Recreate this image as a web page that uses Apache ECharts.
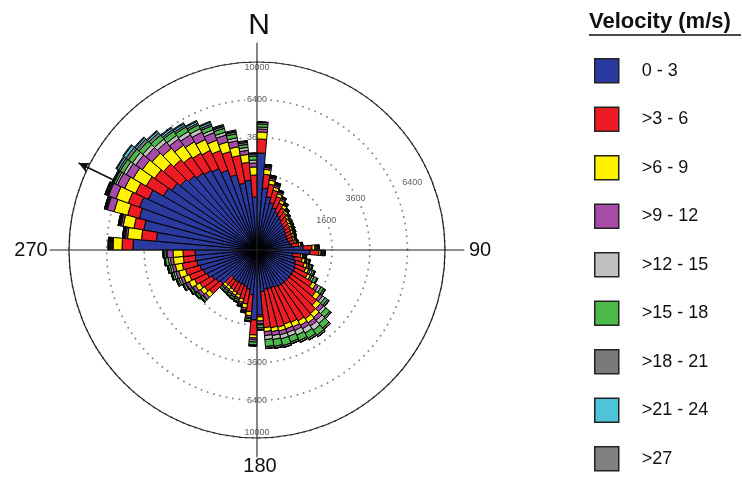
<!DOCTYPE html>
<html><head><meta charset="utf-8">
<script src="https://cdn.jsdelivr.net/npm/echarts@6/dist/echarts.min.js"></script>
<style>html,body{margin:0;padding:0;background:#fff}#c{width:742px;height:477px}</style>
</head><body><div id="c"></div>
<script>
// Direction bins (degrees, start of each 5° sector, clockwise from North)
const directions = ['0','5','10','15','20','25','30','35','40','45','50','55','60','65','70','75','80','85',
 '90','95','100','105','110','115','120','125','130','135','140','145','150','155','160','165','170','175',
 '180','185','190','195','200','205','210','215','220','225','230','235','240','245','250','255','260','265',
 '270','275','280','285','290','295','300','305','310','315','320','325','330','335','340','345','350','355'];

const speedClasses = ['0 - 3','>3 - 6','>6 - 9','>9 - 12','>12 - 15','>15 - 18','>18 - 21','>21 - 24','>27'];
const classColors = ['#2b3a9e','#ed1c24','#fff200','#a64ca6','#c0c0c0','#4cb848','#7a7a7a','#4dc4d9','#808080'];

// Frequency (counts) per direction for each velocity class
const v0_3 = [2662,1088,825,679,573,499,453,409,367,347,327,308,290,290,290,308,347,599,795,367,409,453,476,499,499,499,499,499,499,499,476,453,453,453,499,1195,1386,573,453,409,387,387,387,387,367,652,707,765,856,919,985,1053,1088,1088,4350,2886,3741,4211,4420,4074,3300,3060,2829,2662,2500,2395,2292,2044,1721,1308,1386,795];
const v3_6 = [824,547,445,408,346,266,227,190,157,129,126,122,119,119,98,100,152,257,293,181,190,227,289,388,660,968,1222,1450,1497,1403,1335,1313,1358,1313,1222,75,658,515,403,327,265,238,211,186,206,436,452,467,491,548,564,581,462,462,806,921,679,869,890,1006,1335,1360,1382,1277,1177,1154,1132,1135,1222,1299,805,797];
const v6_9 = [454,222,156,108,99,91,86,53,50,48,46,45,44,44,43,44,49,96,71,51,81,86,91,98,149,211,228,242,245,239,233,231,186,183,181,156,147,145,129,89,84,82,81,79,79,183,188,194,244,255,307,315,447,447,710,974,812,1117,1056,951,1150,1125,1099,1065,958,872,788,694,605,512,416,358];
const v9_12 = [203,93,82,75,69,63,30,27,26,25,24,23,23,23,22,23,25,33,37,26,28,60,63,68,118,133,192,204,206,201,197,195,195,192,190,123,101,76,68,62,59,58,57,56,56,116,120,123,130,135,140,143,145,295,82,148,155,600,697,679,665,652,638,620,598,584,570,548,457,367,222,192];
const v12_15 = [138,47,42,38,0,0,0,0,0,0,0,0,0,0,0,0,0,34,37,27,29,31,66,70,123,138,150,213,269,265,259,204,204,201,199,42,103,39,35,32,0,0,0,0,0,40,41,42,44,93,96,99,100,51,82,75,78,88,90,175,259,340,333,324,312,306,299,215,205,191,172,150];
const v15_18 = [211,48,42,39,35,33,30,28,26,25,25,24,23,0,0,0,0,34,38,27,59,63,68,110,128,143,262,336,344,336,329,322,378,373,370,130,159,79,35,33,61,60,59,58,58,82,84,86,91,95,99,101,154,104,83,76,79,89,90,178,353,437,429,417,403,395,308,294,281,263,177,208];
const v18_21 = [144,48,43,39,36,33,31,29,27,26,25,25,24,23,23,23,26,35,38,28,30,33,35,38,88,99,109,117,119,117,114,113,113,113,111,89,54,41,36,33,31,31,30,30,30,42,43,44,46,48,50,51,52,53,83,76,80,89,91,90,180,269,264,257,165,162,157,151,144,135,121,108];
const v21_24 = [0,0,0,0,0,0,0,0,0,0,0,0,0,0,0,0,0,0,0,0,0,0,0,0,0,0,0,0,0,0,0,0,0,0,0,0,0,0,0,0,0,0,0,0,0,0,0,0,0,0,0,0,0,0,84,0,0,0,91,90,182,274,179,174,168,164,160,153,73,68,61,55];
const v27 = [0,0,0,0,0,0,0,0,0,0,0,0,0,0,0,0,0,0,0,0,0,0,0,0,0,0,0,0,0,0,0,0,0,0,0,0,0,0,0,0,0,0,0,0,0,0,0,0,0,0,0,0,0,0,0,0,0,0,0,0,92,93,90,88,85,83,81,77,73,69,62,0];
const classData = [v0_3, v3_6, v6_9, v9_12, v12_15, v15_18, v18_21, v21_24, v27];

// Radial ring values (square-root scale) and compass labels
const ringValues = [1600, 3600, 6400, 10000];
const compassLabels = ['N', '90', '180', '270'];
const meanDirection = 296; // arrow bearing (deg)

const CX = 257, CY = 250, R = 188, EXT = 1.12;
const FONT = '"Liberation Sans", Arial, Helvetica, sans-serif';

// stacked segments measured on the sqrt(count) radial scale
function segments(k) {
  return directions.map((d, i) => {
    let below = 0;
    for (let j = 0; j < k; j++) below += classData[j][i];
    const top = below + classData[k][i];
    return Math.sqrt(top) - Math.sqrt(below);
  });
}

const barSeries = speedClasses.map((name, k) => ({
  name: name, type: 'bar', coordinateSystem: 'polar', polarIndex: 0,
  stack: 'rose', data: segments(k), barCategoryGap: '0%', z: 3,
  itemStyle: { color: classColors[k], borderColor: '#000', borderWidth: 1 },
  emphasis: { disabled: true }, silent: true
}));

const ringLabelData = [
  { value: [Math.sqrt(ringValues[3]) - 3, 0], label: { formatter: '10000' } },
  { value: [Math.sqrt(ringValues[2]), 0], label: { formatter: '6400' } },
  { value: [Math.sqrt(ringValues[1]), 0], label: { formatter: '3600' } },
  { value: [Math.sqrt(ringValues[3]) - 3, 180], label: { formatter: '10000' } },
  { value: [Math.sqrt(ringValues[2]), 180], label: { formatter: '6400' } },
  { value: [Math.sqrt(ringValues[1]), 180], label: { formatter: '3600' } },
  { value: [Math.sqrt(ringValues[0]), 67], label: { formatter: '1600' } },
  { value: [Math.sqrt(ringValues[1]) - 1, 62.5], label: { formatter: '3600' } },
  { value: [Math.sqrt(ringValues[2]) + 10, 66.5], label: { formatter: '6400' } }
];

const LL = 110.3; // cross-line length in radial units

const chart = echarts.init(document.getElementById('c'), null, { renderer: 'canvas' });
chart.setOption({
  animation: false,
  backgroundColor: '#fff',
  polar: [
    { center: [CX, CY], radius: R },
    { center: [CX, CY], radius: R * EXT }
  ],
  angleAxis: [
    { polarIndex: 0, type: 'category', data: directions, startAngle: 90, clockwise: true,
      boundaryGap: true,
      axisLine: { show: true, lineStyle: { color: '#222', width: 1.2 } },
      axisTick: { show: false }, axisLabel: { show: false }, splitLine: { show: false } },
    { polarIndex: 1, type: 'value', min: 0, max: 360, startAngle: 90, clockwise: true,
      axisLine: { show: false }, axisTick: { show: false }, axisLabel: { show: false }, splitLine: { show: false } }
  ],
  radiusAxis: [
    { polarIndex: 0, type: 'value', min: 0, max: 100, interval: 20,
      axisLine: { show: false }, axisTick: { show: false }, axisLabel: { show: false },
      splitLine: { show: true, lineStyle: { color: '#8a8a8a', width: 2, type: [0.01, 6.5], cap: 'round' } } },
    { polarIndex: 1, type: 'value', min: 0, max: 100 * EXT,
      axisLine: { show: false }, axisTick: { show: false }, axisLabel: { show: false }, splitLine: { show: false } }
  ],
  legend: {
    orient: 'vertical', left: 589, top: 53, itemWidth: 24, itemHeight: 24, itemGap: 23,
    icon: 'rect', selectedMode: false, data: speedClasses,
    itemStyle: { borderColor: '#222', borderWidth: 1.5 },
    textStyle: { fontSize: 18, color: '#111', fontFamily: FONT, padding: [0, 0, 0, 18] }
  },
  graphic: [
    { type: 'text', left: 589, top: 11, style: { text: 'Velocity (m/s)', font: 'bold 22px ' + FONT, fill: '#111' } },
    { type: 'line', shape: { x1: 589, y1: 35, x2: 741, y2: 35 }, style: { stroke: '#111', lineWidth: 1.6 } },
    { type: 'text', x: CX + 2, y: CY - 224, style: { text: compassLabels[0], font: '30px ' + FONT, fill: '#111', align: 'center', verticalAlign: 'middle' } },
    { type: 'text', x: CX + 223, y: CY, style: { text: compassLabels[1], font: '20px ' + FONT, fill: '#111', align: 'center', verticalAlign: 'middle' } },
    { type: 'text', x: CX + 3, y: CY + 216, style: { text: compassLabels[2], font: '20px ' + FONT, fill: '#111', align: 'center', verticalAlign: 'middle' } },
    { type: 'text', x: CX - 226, y: CY, style: { text: compassLabels[3], font: '20px ' + FONT, fill: '#111', align: 'center', verticalAlign: 'middle' } }
  ],
  series: barSeries.concat([
    { type: 'scatter', coordinateSystem: 'polar', polarIndex: 1, z: 2, silent: true,
      symbolSize: 1, itemStyle: { color: 'rgba(0,0,0,0)' },
      label: { show: true, position: 'inside', fontSize: 9, color: '#333', fontFamily: FONT,
               backgroundColor: '#fff', padding: [0, 2] },
      data: ringLabelData },
    { type: 'line', coordinateSystem: 'polar', polarIndex: 1, z: 5, silent: true, symbol: 'none',
      lineStyle: { color: '#222', width: 1.1 }, data: [[LL, 0], [0, 0], [LL, 180]] },
    { type: 'line', coordinateSystem: 'polar', polarIndex: 1, z: 5, silent: true, symbol: 'none',
      lineStyle: { color: '#222', width: 1.1 }, data: [[LL, 270], [0, 0], [LL, 90]] },
    { type: 'line', coordinateSystem: 'polar', polarIndex: 1, z: 1, silent: true, symbol: 'none',
      lineStyle: { color: '#111', width: 1.6 },
      data: [[0, meanDirection], { value: [105.6, meanDirection], symbol: 'arrow', symbolSize: [8, 11], symbolRotate: 360 - meanDirection, itemStyle: { color: '#111' } }] }
  ])
});
</script></body></html>
